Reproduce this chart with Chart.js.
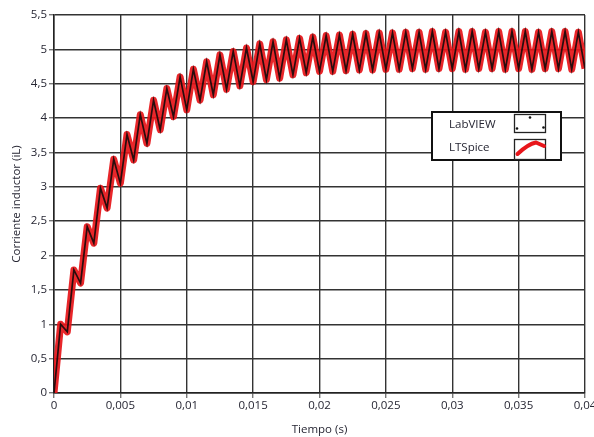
<!DOCTYPE html>
<html>
<head>
<meta charset="utf-8">
<script src="https://cdn.jsdelivr.net/npm/chart.js@4/dist/chart.umd.min.js"></script>
<style>
  html, body { margin: 0; padding: 0; background: #fff; }
  #grafico { display: block; }
</style>
</head>
<body>
<canvas id="grafico" width="594" height="437"></canvas>
<script>
// tiempo (s): valles en cada ms, picos a mitad de cada ms
const tiempo = [
  0, 0.0005, 0.001, 0.0015, 0.002, 0.0025, 0.003, 0.0035, 0.004, 0.0045,
  0.005, 0.0055, 0.006, 0.0065, 0.007, 0.0075, 0.008, 0.0085, 0.009, 0.0095,
  0.01, 0.0105, 0.011, 0.0115, 0.012, 0.0125, 0.013, 0.0135, 0.014, 0.0145,
  0.015, 0.0155, 0.016, 0.0165, 0.017, 0.0175, 0.018, 0.0185, 0.019, 0.0195,
  0.02, 0.0205, 0.021, 0.0215, 0.022, 0.0225, 0.023, 0.0235, 0.024, 0.0245,
  0.025, 0.0255, 0.026, 0.0265, 0.027, 0.0275, 0.028, 0.0285, 0.029, 0.0295,
  0.03, 0.0305, 0.031, 0.0315, 0.032, 0.0325, 0.033, 0.0335, 0.034, 0.0345,
  0.035, 0.0355, 0.036, 0.0365, 0.037, 0.0375, 0.038, 0.0385, 0.039, 0.0395,
  0.04
];

// corriente del inductor (A)
const corrienteLTSpice = [
  0, 1.00, 0.89, 1.79, 1.60, 2.42, 2.18, 2.98, 2.69, 3.40,
  3.05, 3.76, 3.39, 4.05, 3.63, 4.26, 3.83, 4.43, 4.02, 4.60,
  4.12, 4.71, 4.26, 4.82, 4.34, 4.92, 4.42, 4.97, 4.47, 5.02,
  4.53, 5.08, 4.56, 5.11, 4.58, 5.14, 4.63, 5.16, 4.66, 5.18,
  4.68, 5.20, 4.68, 5.21, 4.69, 5.22, 4.70, 5.23, 4.70, 5.24,
  4.71, 5.24, 4.71, 5.25, 4.72, 5.25, 4.71, 5.26, 4.72, 5.25,
  4.72, 5.26, 4.71, 5.26, 4.72, 5.25, 4.72, 5.26, 4.71, 5.26,
  4.72, 5.26, 4.71, 5.25, 4.72, 5.26, 4.72, 5.26, 4.71, 5.25,
  4.72
];
// LabVIEW coincide con LTSpice en la grafica
const corrienteLabVIEW = corrienteLTSpice.slice();

const ticksX = [0, 0.005, 0.01, 0.015, 0.02, 0.025, 0.03, 0.035, 0.04];
const ticksY = [0, 0.5, 1, 1.5, 2, 2.5, 3, 3.5, 4, 4.5, 5, 5.5];

const fuente = "'Open Sans', 'DejaVu Sans', sans-serif";
const colorTexto = "#262633";

function conComa(v) {
  return String(Number(v.toFixed(3))).replace(".", ",");
}

function puntos(serie) {
  return tiempo.map((t, i) => ({ x: t, y: serie[i] }));
}

// leyenda dibujada dentro del area de la grafica
const leyendaPlugin = {
  id: "leyendaCaja",
  afterDatasetsDraw(chart) {
    const ctx = chart.ctx;
    ctx.save();
    ctx.fillStyle = "#fff";
    ctx.fillRect(432, 112, 129, 48);
    ctx.strokeStyle = "#111";
    ctx.lineWidth = 2;
    ctx.strokeRect(432, 112, 129, 48);

    ctx.font = "11.5px " + fuente;
    ctx.fillStyle = colorTexto;
    ctx.textBaseline = "middle";
    ctx.fillText("LabVIEW", 449, 124.5);
    ctx.fillText("LTSpice", 449, 148);

    ctx.lineWidth = 1.3;
    ctx.strokeStyle = "#222";
    ctx.strokeRect(514.5, 114.5, 31, 18);
    ctx.strokeRect(514.5, 139.5, 31, 20);

    ctx.fillStyle = "#111";
    [[530, 117.5], [517, 128.5], [543.5, 127.5]].forEach(([x, y]) => {
      ctx.beginPath();
      ctx.arc(x, y, 1.3, 0, Math.PI * 2);
      ctx.fill();
    });

    ctx.strokeStyle = "#e8161b";
    ctx.lineWidth = 4;
    ctx.lineCap = "round";
    ctx.beginPath();
    ctx.moveTo(517.5, 154);
    ctx.quadraticCurveTo(528, 144, 536, 142.5);
    ctx.lineTo(544, 146);
    ctx.stroke();
    ctx.restore();
  }
};

new Chart(document.getElementById("grafico"), {
  type: "line",
  data: {
    datasets: [
      {
        label: "LabVIEW",
        data: puntos(corrienteLabVIEW),
        borderColor: "rgba(20, 10, 10, 0.9)",
        borderWidth: 1.7,
        pointRadius: 0,
        tension: 0,
        fill: false,
        order: 1
      },
      {
        label: "LTSpice",
        data: puntos(corrienteLTSpice),
        borderColor: "rgba(230, 20, 24, 0.92)",
        borderWidth: 7,
        pointRadius: 0,
        tension: 0,
        fill: false,
        borderJoinStyle: "round",
        order: 2
      }
    ]
  },
  options: {
    responsive: false,
    animation: false,
    layout: { padding: { top: 15, right: 9, left: 0, bottom: 0 } },
    plugins: {
      legend: { display: false },
      tooltip: { enabled: false }
    },
    scales: {
      x: {
        type: "linear",
        min: 0,
        max: 0.04,
        afterBuildTicks(scale) {
          scale.ticks = ticksX.map((v) => ({ value: v }));
        },
        afterFit(scale) {
          scale.height = 44;
          scale.paddingLeft = 0;
          scale.paddingRight = 0;
        },
        ticks: {
          callback: (v) => conComa(v),
          font: { family: fuente, size: 11.5 },
          color: colorTexto,
          padding: 1,
          maxRotation: 0
        },
        grid: {
          color: "#333",
          lineWidth: 1.4,
          tickLength: 5,
          tickColor: "#777"
        },
        border: { color: "#222", width: 1.5 },
        title: {
          display: true,
          text: "Tiempo (s)",
          font: { family: fuente, size: 11.5 },
          color: colorTexto,
          padding: { top: 0, bottom: 0 }
        }
      },
      y: {
        type: "linear",
        min: 0,
        max: 5.5,
        afterBuildTicks(scale) {
          scale.ticks = ticksY.map((v) => ({ value: v }));
        },
        afterFit(scale) {
          scale.width = 54;
          scale.paddingTop = 0;
          scale.paddingBottom = 0;
        },
        ticks: {
          callback: (v) => conComa(v),
          font: { family: fuente, size: 11.5 },
          color: colorTexto,
          padding: 2
        },
        grid: {
          color: "#333",
          lineWidth: 1.4,
          tickLength: 5,
          tickColor: "#777"
        },
        border: { color: "#222", width: 1.5 },
        title: {
          display: true,
          text: "Corriente inductor (iL)",
          font: { family: fuente, size: 11.5 },
          color: colorTexto,
          padding: { top: 10, bottom: 0 }
        }
      }
    }
  },
  plugins: [leyendaPlugin]
});
</script>
</body>
</html>
